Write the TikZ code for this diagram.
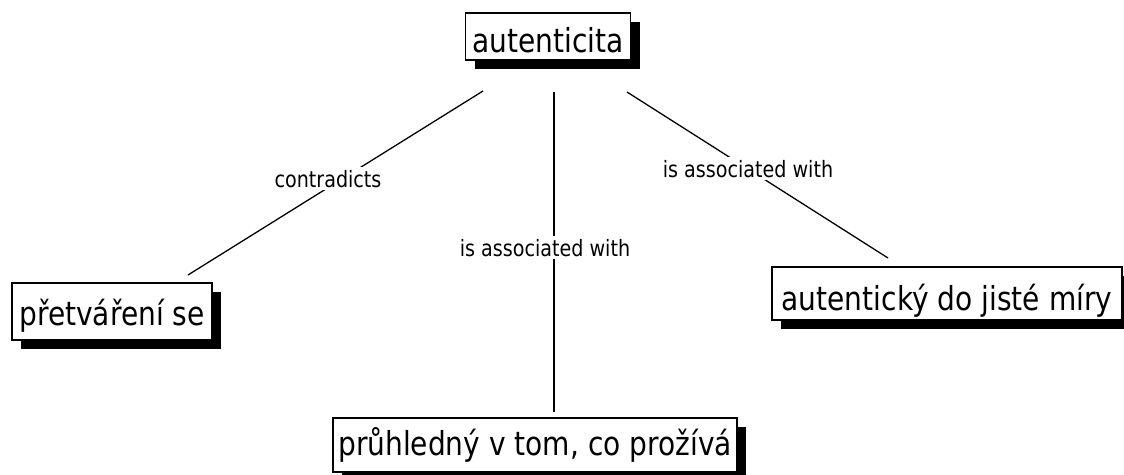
\documentclass[tikz,border=0pt]{standalone}
\usepackage{fontspec}
\setmainfont{DejaVu Sans}
\newfontfamily\bigf[FakeStretch=0.85]{DejaVu Sans}
\newfontfamily\smallf[FakeStretch=0.85]{DejaVu Sans}
\usetikzlibrary{shadows}
\begin{document}
\begin{tikzpicture}[x=1pt,y=-1pt,
  concept/.style={draw, line width=1.2pt, fill=white, inner xsep=0pt, inner ysep=0pt,
    anchor=base, font=\bigf\fontsize{33}{33}\selectfont,
    drop shadow={shadow xshift=9pt, shadow yshift=-9pt, opacity=1, fill=black}},
  lab/.style={font=\smallf\fontsize{22.5}{22.5}\selectfont, fill=white, inner sep=3pt, anchor=base},
  link/.style={line width=1.3pt}]
\useasboundingbox (0,0) rectangle (1124,474);

% concepts
\node[concept, minimum width=165pt, text height=39pt, text depth=8pt] (aut) at (548,52) {autenticita};
\node[concept, minimum width=200pt, text height=42pt, text depth=15pt] (pre) at (112,325) {přetváření se};
\node[concept, minimum width=350pt, text height=43pt, text depth=10pt] (auk) at (947,310) {autentický do jisté míry};
\node[concept, minimum width=404pt, text height=37pt, text depth=17pt] (pru) at (535,455) {průhledný v tom, co prožívá};

% connector end points
\coordinate (a1) at (483,91);
\coordinate (p1) at (188,275);
\coordinate (a2) at (554,92);
\coordinate (r1) at (554,412);
\coordinate (a3) at (627,92);
\coordinate (k1) at (888,258);

\draw[link] (a1) -- (p1);
\draw[link] (a2) -- (r1);
\draw[link] (a3) -- (k1);

% linking phrases
\node[lab] (l1) at (328,187) {contradicts};
\node[lab] (l2) at (545,256) {is associated with};
\node[lab] (l3) at (748,177) {is associated with};
\end{tikzpicture}
\end{document}
